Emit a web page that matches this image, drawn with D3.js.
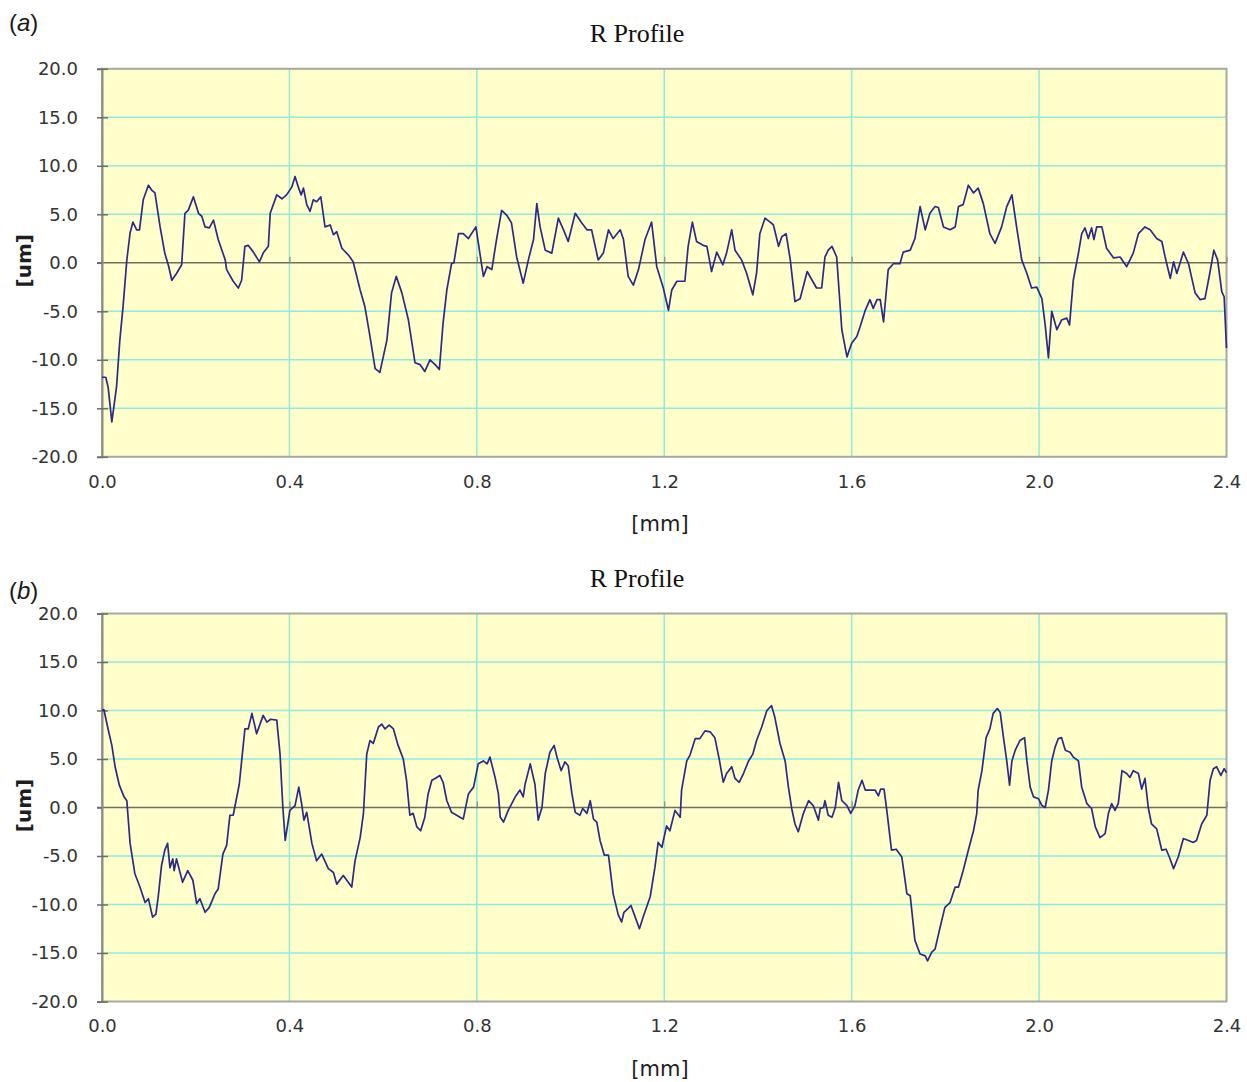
<!DOCTYPE html>
<html>
<head>
<meta charset="utf-8">
<script src="https://cdn.jsdelivr.net/npm/d3@7/dist/d3.min.js"></script>
<style>
	body { margin: 0; background: #ffffff; }
</style>
</head>
<body>
<div id="chart"></div>
<script>
//chart data
var xTicks = [0.0, 0.4, 0.8, 1.2, 1.6, 2.0, 2.4],
	yTicks = [-20, -15, -10, -5, 0, 5, 10, 15, 20],
	panelLetters = ["a", "b"],
	chartTitle = "R Profile",
	xLabel = "[mm]",
	yLabel = "[um]";

//panel (a) profile: position [mm] and height [um]
var profileAX = [0.000,0.008,0.013,0.021,0.031,0.038,0.045,0.053,0.060,0.066,0.074,0.080,0.088,0.099,0.106,0.113,0.124,0.134,0.142,0.149,0.159,0.170,0.177,0.184,0.195,0.206,0.213,0.220,0.229,0.238,0.248,0.263,0.266,0.280,0.291,0.298,0.305,0.312,0.323,0.336,0.344,0.355,0.359,0.373,0.384,0.394,0.405,0.412,0.419,0.425,0.430,0.437,0.444,0.451,0.458,0.467,0.476,0.487,0.494,0.501,0.512,0.526,0.536,0.551,0.561,0.572,0.583,0.593,0.608,0.618,0.628,0.640,0.654,0.668,0.679,0.689,0.700,0.711,0.720,0.728,0.736,0.746,0.751,0.761,0.771,0.782,0.798,0.814,0.822,0.832,0.842,0.853,0.864,0.874,0.885,0.899,0.910,0.921,0.928,0.935,0.946,0.960,0.974,0.985,0.995,1.010,1.024,1.035,1.045,1.059,1.070,1.081,1.091,1.106,1.113,1.123,1.134,1.145,1.159,1.173,1.184,1.198,1.209,1.216,1.227,1.244,1.251,1.260,1.269,1.283,1.291,1.301,1.312,1.325,1.333,1.344,1.351,1.365,1.376,1.389,1.397,1.404,1.415,1.426,1.433,1.444,1.451,1.460,1.469,1.479,1.490,1.505,1.525,1.536,1.543,1.550,1.558,1.568,1.579,1.590,1.600,1.611,1.618,1.629,1.639,1.646,1.654,1.661,1.668,1.678,1.689,1.703,1.710,1.725,1.735,1.746,1.757,1.767,1.778,1.785,1.796,1.810,1.821,1.828,1.838,1.849,1.860,1.870,1.881,1.895,1.906,1.920,1.931,1.942,1.952,1.963,1.974,1.984,1.995,2.006,2.013,2.020,2.027,2.038,2.048,2.059,2.065,2.073,2.084,2.091,2.098,2.105,2.112,2.117,2.123,2.134,2.144,2.159,2.173,2.187,2.201,2.212,2.226,2.237,2.251,2.262,2.269,2.280,2.287,2.294,2.308,2.319,2.333,2.344,2.354,2.365,2.373,2.381,2.390,2.395,2.400];
var profileAY = [-11.8,-11.8,-12.8,-16.4,-12.8,-8.0,-4.5,0.3,3.1,4.2,3.4,3.4,6.5,8.0,7.5,7.2,3.7,1.0,-0.3,-1.8,-1.1,-0.2,5.1,5.4,6.8,5.1,4.8,3.7,3.6,4.4,2.4,0.3,-0.7,-1.9,-2.6,-1.8,1.7,1.8,1.1,0.1,1.0,1.7,5.1,7.0,6.6,7.0,7.8,8.9,7.8,7.0,7.7,6.0,5.3,6.5,6.3,6.8,3.7,3.9,2.9,3.2,1.5,0.8,0.1,-2.8,-4.5,-7.6,-10.9,-11.3,-8.0,-3.1,-1.4,-3.1,-5.9,-10.3,-10.5,-11.2,-10.0,-10.5,-11.0,-6.2,-2.8,-0.1,0.0,3.0,3.0,2.5,3.7,-1.4,-0.4,-0.7,2.4,5.4,4.9,4.1,0.6,-2.1,0.3,2.4,6.1,3.7,1.3,1.0,4.6,3.4,2.2,5.1,4.1,3.4,3.4,0.3,1.0,3.4,2.5,3.4,2.4,-1.4,-2.3,-0.7,2.4,4.2,-0.4,-2.6,-4.9,-2.8,-1.9,-1.9,1.7,4.2,2.2,1.8,1.7,-0.9,1.1,-0.2,1.0,3.4,1.3,0.3,-1.1,-3.3,-1.1,3.0,4.6,4.2,3.9,1.7,2.7,3.0,0.3,-4.0,-3.7,-0.9,-2.6,-2.6,0.6,1.3,1.7,0.6,-6.9,-9.7,-8.3,-7.6,-6.6,-4.9,-3.8,-4.7,-3.8,-3.8,-6.1,-0.7,-0.1,-0.1,1.1,1.3,2.5,5.8,3.4,5.1,5.8,5.7,3.7,3.4,3.7,5.8,6.0,8.0,7.2,7.7,6.1,3.0,2.0,3.7,5.8,7.0,3.7,0.3,-1.1,-2.6,-2.5,-3.7,-6.4,-9.8,-5.0,-6.9,-5.9,-5.7,-6.4,-1.8,1.0,3.0,3.6,2.5,3.6,2.4,3.7,3.7,1.5,0.5,0.6,-0.4,1.0,3.0,3.7,3.4,2.5,2.2,0.6,-1.6,0.1,-1.1,1.1,-0.1,-3.1,-3.8,-3.7,-0.9,1.3,0.3,-3.0,-3.5,-8.8];

//panel (b) profile: position [mm] and height [um]
var profileBX = [0.000,0.004,0.012,0.021,0.028,0.037,0.047,0.053,0.060,0.070,0.081,0.092,0.099,0.108,0.115,0.120,0.127,0.134,0.140,0.145,0.151,0.154,0.159,0.172,0.183,0.194,0.202,0.209,0.220,0.229,0.241,0.248,0.258,0.266,0.273,0.280,0.293,0.305,0.312,0.320,0.330,0.344,0.352,0.360,0.373,0.380,0.386,0.391,0.401,0.412,0.420,0.426,0.431,0.437,0.448,0.458,0.469,0.483,0.494,0.501,0.515,0.533,0.540,0.551,0.558,0.565,0.572,0.579,0.590,0.597,0.604,0.613,0.622,0.632,0.643,0.650,0.657,0.664,0.672,0.680,0.689,0.696,0.704,0.711,0.721,0.728,0.736,0.746,0.757,0.764,0.771,0.782,0.793,0.803,0.814,0.822,0.828,0.839,0.846,0.850,0.857,0.867,0.882,0.892,0.899,0.903,0.914,0.924,0.931,0.939,0.946,0.956,0.965,0.971,0.980,0.988,0.995,1.003,1.010,1.020,1.026,1.035,1.042,1.049,1.056,1.063,1.072,1.081,1.091,1.102,1.109,1.114,1.123,1.129,1.138,1.147,1.155,1.170,1.180,1.187,1.195,1.205,1.212,1.223,1.234,1.237,1.248,1.255,1.266,1.276,1.287,1.298,1.308,1.318,1.326,1.333,1.344,1.351,1.360,1.369,1.380,1.389,1.397,1.408,1.419,1.429,1.436,1.447,1.458,1.465,1.472,1.479,1.486,1.497,1.508,1.518,1.529,1.533,1.540,1.543,1.550,1.558,1.565,1.572,1.579,1.590,1.598,1.607,1.614,1.622,1.629,1.639,1.650,1.657,1.662,1.669,1.675,1.685,1.695,1.707,1.718,1.725,1.735,1.746,1.757,1.762,1.771,1.778,1.789,1.799,1.810,1.821,1.828,1.838,1.849,1.860,1.867,1.870,1.878,1.887,1.895,1.902,1.911,1.917,1.924,1.931,1.937,1.942,1.949,1.959,1.969,1.974,1.981,1.988,1.999,2.006,2.013,2.020,2.027,2.034,2.041,2.048,2.056,2.066,2.073,2.084,2.091,2.102,2.112,2.120,2.130,2.141,2.148,2.155,2.162,2.169,2.177,2.187,2.194,2.201,2.212,2.219,2.226,2.233,2.240,2.251,2.262,2.271,2.278,2.287,2.297,2.308,2.319,2.329,2.336,2.347,2.358,2.365,2.372,2.379,2.388,2.395,2.400];
var profileBY = [10.0,10.1,8.3,6.4,4.2,2.3,1.1,0.7,-3.7,-6.8,-8.2,-9.8,-9.4,-11.3,-11.0,-9.2,-6.0,-4.4,-3.7,-6.2,-5.3,-6.5,-5.3,-7.7,-6.5,-7.5,-9.9,-9.4,-10.8,-10.3,-8.9,-8.4,-4.8,-3.9,-0.8,-0.8,2.4,8.1,8.1,9.7,7.6,9.5,8.8,9.1,9.0,5.5,0.0,-3.4,-0.3,0.2,2.1,0.4,-1.3,-0.5,-3.7,-5.5,-4.8,-6.3,-6.7,-7.9,-7.0,-8.2,-5.5,-3.1,-0.6,5.5,6.9,6.6,8.3,8.6,8.1,8.5,8.1,6.4,5.0,2.8,-0.8,-0.6,-2.0,-2.4,-1.0,1.4,2.8,3.0,3.3,2.6,0.7,-0.5,-0.8,-1.0,-1.2,1.4,2.1,4.5,4.8,4.5,5.2,3.1,1.4,-1.0,-1.5,-0.3,1.1,1.8,1.1,2.4,4.5,2.4,-1.3,0.0,3.5,5.7,6.4,5.2,3.8,4.7,4.3,1.4,-0.5,-0.8,-0.1,-0.6,0.7,-1.2,-1.5,-3.4,-4.9,-4.9,-8.9,-11.1,-11.8,-10.8,-10.4,-10.1,-11.3,-12.5,-11.3,-9.2,-6.2,-3.6,-4.1,-1.9,-2.4,-0.3,-1.0,1.8,4.8,5.4,7.1,7.1,7.9,7.8,7.2,4.8,2.6,3.5,4.2,3.0,2.6,3.5,4.8,5.5,6.9,8.3,10.0,10.5,9.3,6.6,4.8,2.1,-0.1,-1.7,-2.5,-0.6,0.7,0.2,-1.3,-0.1,0.0,0.7,-0.8,-1.0,0.0,2.6,0.7,0.2,-0.6,0.2,1.8,2.8,1.8,1.8,1.8,1.2,1.9,1.9,-0.3,-4.4,-4.3,-5.1,-8.9,-9.1,-13.7,-15.1,-15.3,-15.8,-14.9,-14.6,-12.3,-10.3,-9.8,-8.2,-8.2,-6.5,-4.4,-2.4,-0.6,1.8,3.8,7.2,8.1,9.7,10.2,9.8,7.2,4.8,2.3,4.8,5.9,6.9,7.2,4.8,2.1,1.1,0.9,0.2,0.0,1.8,4.8,6.2,7.1,7.2,5.9,5.7,5.2,4.8,2.1,0.4,-0.1,-2.0,-3.1,-2.7,-0.6,0.4,-0.3,0.4,3.8,3.5,3.1,3.8,3.5,1.9,3.0,0.0,-1.7,-2.2,-4.4,-4.3,-5.1,-6.3,-5.1,-3.2,-3.4,-3.6,-3.4,-1.7,-0.8,2.8,4.0,4.2,3.3,4.0,3.6];

var width = 1247,
	height = 1082,
	plotLeft = 102,
	plotRight = 1226.5,
	plotHeight = 388,
	panelTops = [68.8, 613.5];

var svg = d3.select("#chart")
	.append("svg")
		.attr("width", width)
		.attr("height", height)
		.style("display", "block");

//shared x scale, one y scale per panel
var x = d3.scaleLinear()
	.domain([0, 2.4])
	.range([plotLeft, plotRight]);

function fmt(d) { return d.toFixed(1); }

function drawPanel(top, xs, ys, letter) {
	var bottom = top + plotHeight;
	var y = d3.scaleLinear()
		.domain([-20, 20])
		.range([bottom, top]);

	var g = svg.append("g").attr("class", "panel");

	//plot background
	g.append("rect")
		.attr("x", plotLeft)
		.attr("y", top)
		.attr("width", plotRight - plotLeft)
		.attr("height", plotHeight)
		.style("fill", "#ffffcc");

	//grid lines
	g.selectAll(".hgrid")
		.data(yTicks.filter(function(d) { return d != 0 && Math.abs(d) != 20; }))
		.enter()
		.append("line")
			.attr("x1", plotLeft)
			.attr("x2", plotRight)
			.attr("y1", function(d) { return y(d); })
			.attr("y2", function(d) { return y(d); })
			.style("stroke", "#94e8dc")
			.style("stroke-width", 1.5);

	g.selectAll(".vgrid")
		.data(xTicks.filter(function(d) { return d > 0 && d < 2.4; }))
		.enter()
		.append("line")
			.attr("x1", function(d) { return x(d); })
			.attr("x2", function(d) { return x(d); })
			.attr("y1", top)
			.attr("y2", bottom)
			.style("stroke", "#94e8dc")
			.style("stroke-width", 1.5);

	//frame
	g.append("rect")
		.attr("x", plotLeft)
		.attr("y", top)
		.attr("width", plotRight - plotLeft)
		.attr("height", plotHeight)
		.style("fill", "none")
		.style("stroke", "#a8a8a0")
		.style("stroke-width", 2);

	//zero line with x ticks on it
	g.append("line")
		.attr("x1", plotLeft - 5)
		.attr("x2", plotRight)
		.attr("y1", y(0))
		.attr("y2", y(0))
		.style("stroke", "#6e6e62")
		.style("stroke-width", 1.5);

	var xTickAxis = g.append("g")
		.attr("transform", "translate(0," + y(0) + ")")
		.call(d3.axisTop(x).tickValues(xTicks).tickSize(6).tickFormat(""));
	xTickAxis.select(".domain").remove();
	xTickAxis.selectAll("line").style("stroke", "#8a8a80").style("stroke-width", 1.2);

	//y axis labels and ticks
	var yAxis = g.append("g")
		.attr("transform", "translate(" + plotLeft + ",0)")
		.call(d3.axisLeft(y).tickValues(yTicks).tickSize(5).tickPadding(19).tickFormat(fmt));
	yAxis.select(".domain").style("stroke", "#8c8c86").style("stroke-width", 2);
	yAxis.selectAll("line").style("stroke", "#6e6e62").style("stroke-width", 1.5);
	yAxis.selectAll("text")
		.style("font-family", "'DejaVu Sans', sans-serif")
		.style("font-size", "18px")
		.style("fill", "#333333");

	var yInner = g.append("g")
		.attr("transform", "translate(" + plotLeft + ",0)")
		.call(d3.axisRight(y).tickValues(yTicks.filter(function(d) { return d != 0; })).tickSize(6).tickFormat(""));
	yInner.select(".domain").remove();
	yInner.selectAll("line").style("stroke", "#6e6e62").style("stroke-width", 1.5);

	//x axis labels under the plot
	var xAxis = g.append("g")
		.attr("transform", "translate(0," + bottom + ")")
		.call(d3.axisBottom(x).tickValues(xTicks).tickSize(0).tickPadding(18).tickFormat(fmt));
	xAxis.select(".domain").remove();
	xAxis.selectAll("text")
		.style("font-family", "'DejaVu Sans', sans-serif")
		.style("font-size", "18px")
		.style("fill", "#333333");

	//profile line
	var line = d3.line()
		.x(function(d) { return x(d[0]); })
		.y(function(d) { return y(d[1]); });

	g.append("path")
		.datum(d3.zip(xs, ys))
		.attr("d", line)
		.style("fill", "none")
		.style("stroke", "#2b2b86")
		.style("stroke-width", 1.7)
		.style("stroke-linejoin", "round");

	//title
	g.append("text")
		.attr("x", 637)
		.attr("y", top - 26.5)
		.style("text-anchor", "middle")
		.style("font-family", "'Liberation Serif', 'Times New Roman', serif")
		.style("font-size", "26px")
		.style("fill", "#111111")
		.text(chartTitle);

	//axis titles
	g.append("text")
		.attr("x", 660)
		.attr("y", bottom + 74)
		.style("text-anchor", "middle")
		.style("font-family", "'DejaVu Sans', sans-serif")
		.style("font-size", "21px")
		.style("fill", "#1e1e1e")
		.text(xLabel);

	g.append("text")
		.attr("transform", "translate(31," + (y(0) - 2) + ") rotate(-90)")
		.style("text-anchor", "middle")
		.style("font-family", "'DejaVu Sans', sans-serif")
		.style("font-weight", "bold")
		.style("font-size", "20px")
		.style("fill", "#1e1e1e")
		.text(yLabel);

	//panel letter
	var lab = g.append("text")
		.attr("x", 9)
		.attr("y", letter == "a" ? 31 : top - 15)
		.style("font-family", "'Liberation Sans', Arial, sans-serif")
		.style("font-size", "24px")
		.style("fill", "#1a1a1a");
	lab.append("tspan").text("(");
	lab.append("tspan").style("font-style", "italic").text(letter);
	lab.append("tspan").text(")");
}

drawPanel(panelTops[0], profileAX, profileAY, panelLetters[0]);
drawPanel(panelTops[1], profileBX, profileBY, panelLetters[1]);
</script>
</body>
</html>
